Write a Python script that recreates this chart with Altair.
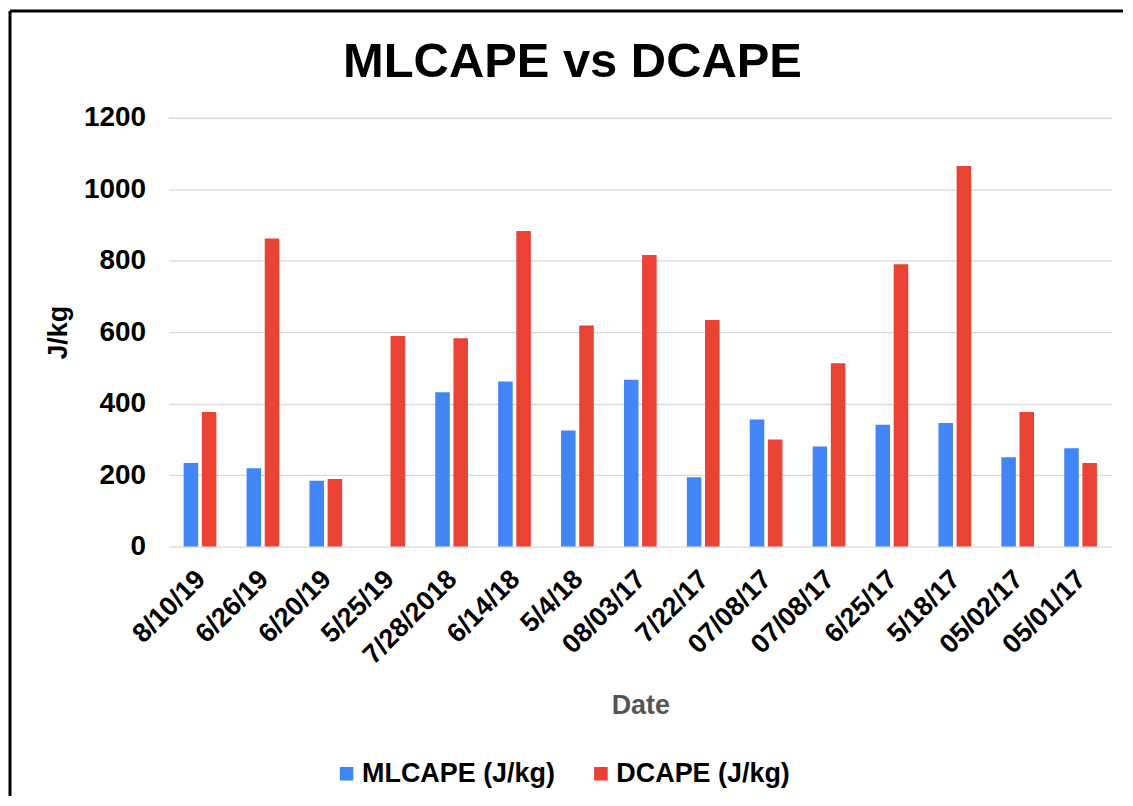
import json
import altair as alt
import pandas as pd

# ---- data ----
dates = ["8/10/19", "6/26/19", "6/20/19", "5/25/19", "7/28/2018", "6/14/18", "5/4/18",
         "08/03/17", "7/22/17", "07/08/17", "07/08/17", "6/25/17", "5/18/17", "05/02/17", "05/01/17"]
mlcape = [234, 219, 184, None, 432, 462, 325, 467, 194, 356, 280, 341, 346, 250, 275]
dcape = [377, 862, 189, 589, 583, 883, 619, 816, 634, 300, 513, 790, 1065, 377, 234]
series_names = ["MLCAPE (J/kg)", "DCAPE (J/kg)"]
series_colors = ["#4285F4", "#EA4335"]
y_ticks = [0, 200, 400, 600, 800, 1000, 1200]
chart_title = "MLCAPE vs DCAPE"

rows = []
for i, d in enumerate(dates):
    rows.append({"idx": i, "series": series_names[0], "value": mlcape[i]})
    rows.append({"idx": i, "series": series_names[1], "value": dcape[i]})
df = pd.DataFrame(rows)

FONT = "Liberation Sans"
W, H = 946, 430
label_expr = json.dumps(dates) + "[datum.value]"

bars = alt.Chart(df).mark_bar().encode(
    x=alt.X("idx:O",
            scale=alt.Scale(paddingInner=0.48, paddingOuter=0.24),
            axis=alt.Axis(labelExpr=label_expr, labelAngle=-45, labelAlign="right",
                          labelBaseline="top", labelPadding=19, labelOffset=-8,
                          labelFontSize=27, labelFont=FONT, labelFontWeight="bold",
                          labelColor="#000000", labelOverlap=False, ticks=False,
                          domain=False, grid=False,
                          title="Date", titleFont=FONT, titleFontSize=27,
                          titleFontWeight="bold", titleColor="#555555",
                          titleY=167, titleBaseline="alphabetic", titleAlign="center")),
    xOffset=alt.XOffset("series:N",
                        scale=alt.Scale(domain=series_names, paddingInner=0.2, paddingOuter=0)),
    y=alt.Y("value:Q",
            scale=alt.Scale(domain=[0, 1200], nice=False),
            axis=alt.Axis(values=y_ticks, format="d", labelFontSize=28, labelFont=FONT,
                          labelFontWeight="bold", labelColor="#000000", labelPadding=23,
                          ticks=False, domain=False, gridColor="#dadada", gridWidth=1.3,
                          title="J/kg", titleFont=FONT, titleFontSize=27,
                          titleFontWeight="bold", titleColor="#000000",
                          titleAngle=-90, titleX=-102, titleY=H / 2,
                          titleBaseline="alphabetic", titleAlign="center")),
    color=alt.Color("series:N",
                    scale=alt.Scale(domain=series_names, range=series_colors),
                    legend=alt.Legend(title=None, orient="none", legendX=165, legendY=644,
                                      direction="horizontal", columns=2, columnPadding=32,
                                      symbolType="square", symbolSize=185, symbolStrokeWidth=0,
                                      labelFont=FONT, labelFontSize=27, labelFontWeight="bold",
                                      labelColor="#000000", labelOffset=2, labelLimit=400,
                                      padding=0)),
)

one = pd.DataFrame({"t": [chart_title]})
border_top = alt.Chart(one).mark_rule(color="#000000", strokeWidth=3).encode(
    x=alt.value(-159), x2=alt.value(957), y=alt.value(-107))
border_left = alt.Chart(one).mark_rule(color="#000000", strokeWidth=3).encode(
    x=alt.value(-159), y=alt.value(-107), y2=alt.value(680))
title_text = alt.Chart(one).mark_text(
    font=FONT, fontSize=49, fontWeight="bold", color="#000000",
    align="center", baseline="alphabetic").encode(
    text="t:N", x=alt.value(405), y=alt.value(-41))

chart = alt.layer(border_top, border_left, title_text, bars).properties(
    width=W, height=H, padding=0, background="white",
).configure_view(strokeWidth=0, stroke="transparent")

chart.save("out.html", embed_options={"renderer": "svg", "actions": False})
